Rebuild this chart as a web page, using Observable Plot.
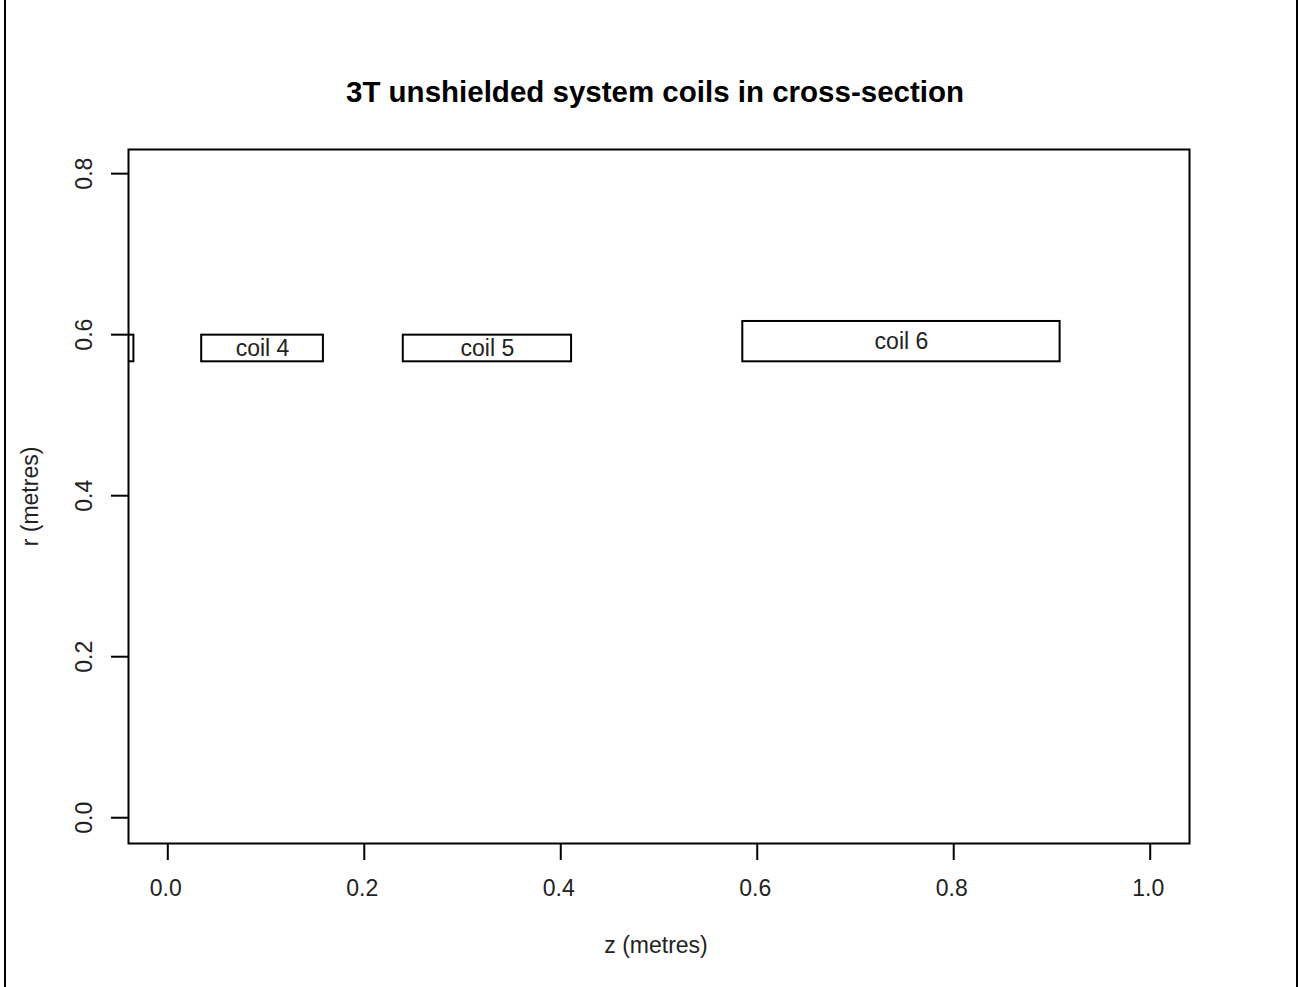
<!DOCTYPE html>
<html>
<head>
<meta charset="utf-8">
<script src="https://cdn.jsdelivr.net/npm/d3@7"></script>
<script src="https://cdn.jsdelivr.net/npm/@observablehq/plot@0.6"></script>
<style>
  html, body { margin: 0; padding: 0; background: #fff; }
  #wrap { position: relative; width: 1298px; height: 987px; overflow: hidden; font-family: "Liberation Sans", Arial, sans-serif; }
  #title { height: 120px; box-sizing: border-box; padding-top: 75px; line-height: 34px; font-size: 29.5px; font-weight: bold; text-align: center; color: #000; padding-left: 12px; }
  .edge { position: absolute; top: 0; width: 2px; height: 987px; background: #000; }
</style>
</head>
<body>
<div id="wrap">
  <div class="edge" style="left:4px"></div>
  <div class="edge" style="left:1296px"></div>
  <div id="title">3T unshielded system coils in cross-section</div>
  <div id="chart"></div>
</div>
<script>
// Coil cross-sections (z from/to, r from/to, in metres)
const coilNames = ["coil 3", "coil 4", "coil 5", "coil 6"];
const zStart   = [-0.158, 0.0345, 0.2397, 0.5853];
const zEnd     = [-0.0345, 0.1584, 0.4110, 0.9083];
const rInner   = [0.5663, 0.5663, 0.5663, 0.5663];
const rOuter   = [0.5994, 0.5994, 0.5994, 0.6164];

const xTicks = [0, 0.2, 0.4, 0.6, 0.8, 1.0];
const yTicks = [0, 0.2, 0.4, 0.6, 0.8];

const coils = coilNames.map((name, i) => ({
  name, z1: zStart[i], z2: zEnd[i], r1: rInner[i], r2: rOuter[i]
}));

const fmt = d3.format(".1f");
const FS = 23;

const chart = Plot.plot({
  width: 1298,
  height: 867,
  marginLeft: 128,
  marginRight: 109,
  marginTop: 29,
  marginBottom: 144,
  style: { fontFamily: "Liberation Sans, Arial, sans-serif", background: "#fff", color: "#000" },
  x: { domain: [-0.04, 1.04], axis: null },
  y: { domain: [-0.032, 0.83], axis: null },
  marks: [
    Plot.rect(coils, { x1: "z1", x2: "z2", y1: "r1", y2: "r2", fill: "#fff", stroke: "#000", strokeWidth: 2, clip: true }),
    Plot.text(coils, { x: d => (d.z1 + d.z2) / 2, y: d => (d.r1 + d.r2) / 2, text: "name", fontSize: FS, fill: "#222", clip: true }),
    Plot.frame({ stroke: "#000", strokeWidth: 2 }),
    // x axis ticks & labels
    Plot.axisX({ ticks: xTicks, tickSize: 17, tickFormat: () => "", label: null, strokeWidth: 2, anchor: "bottom" }),
    Plot.text(xTicks, { x: d => d, frameAnchor: "bottom", dy: 45, dx: -2, text: d => fmt(d), fontSize: FS, fill: "#222", textAnchor: "middle", lineAnchor: "middle" }),
    // y axis ticks & labels
    Plot.axisY({ ticks: yTicks, tickSize: 17, tickFormat: () => "", label: null, strokeWidth: 2, anchor: "left" }),
    Plot.text(yTicks, { y: d => d, frameAnchor: "left", dx: -44, rotate: -90, text: d => fmt(d), fontSize: FS, fill: "#222", textAnchor: "middle", lineAnchor: "middle" }),
    // axis titles
    Plot.text(["z (metres)"], { frameAnchor: "bottom", dy: 102, dx: -3, fontSize: FS, fill: "#222", textAnchor: "middle", lineAnchor: "middle" }),
    Plot.text(["r (metres)"], { frameAnchor: "left", dx: -98, rotate: -90, fontSize: FS, fill: "#222", textAnchor: "middle", lineAnchor: "middle" })
  ]
});
document.getElementById("chart").appendChild(chart);
</script>
</body>
</html>
